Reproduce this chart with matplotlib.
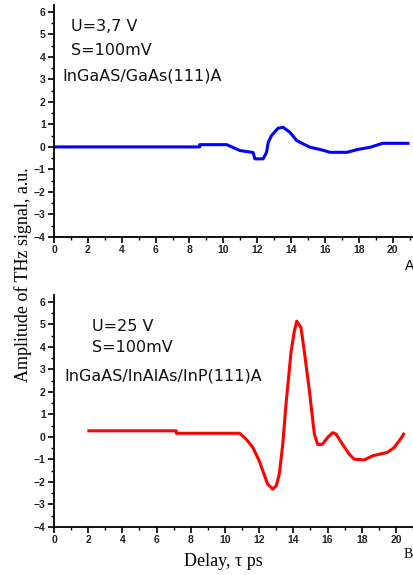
import matplotlib
matplotlib.use('Agg')
import matplotlib.pyplot as plt
from matplotlib.ticker import MultipleLocator

# top panel (A): InGaAs/GaAs(111)A, U=3.7 V
delay_a = [0, 8.6, 8.6, 10.2, 10.97, 11.76, 11.86, 12.35, 12.55, 12.65, 12.84,
           13.23, 13.53, 13.93, 14.33, 15.1, 15.9, 16.3, 17.3, 17.9, 18.7, 19.4, 20.9]
amp_a = [0, 0, 0.1, 0.1, -0.16, -0.25, -0.53, -0.53, -0.24, 0.2, 0.5,
         0.83, 0.87, 0.65, 0.28, -0.01, -0.15, -0.24, -0.24, -0.12, -0.01, 0.16, 0.16]

# bottom panel (B): InGaAs/InAlAs/InP(111)A, U=25 V
delay_b = [2.04, 7.15, 7.15, 10.85, 11.24, 11.63, 12.0, 12.5, 12.8, 13.0, 13.18,
           13.38, 13.57, 13.87, 14.06, 14.2, 14.45, 14.64, 14.94, 15.23, 15.42,
           15.7, 16.0, 16.3, 16.5, 16.88, 17.27, 17.56, 18.15, 18.64, 19.03,
           19.5, 19.9, 20.19, 20.39, 20.45]
amp_b = [0.27, 0.27, 0.16, 0.16, -0.1, -0.47, -1.06, -2.1, -2.32, -2.17, -1.65,
         -0.33, 1.45, 3.8, 4.7, 5.14, 4.84, 3.8, 2.04, 0.12, -0.33,
         -0.33, -0.03, 0.19, 0.12, -0.33, -0.77, -0.99, -1.02, -0.84, -0.77,
         -0.69, -0.47, -0.18, 0.04, 0.12]

fig = plt.figure(figsize=(4.13, 5.75), dpi=100)
ax1 = fig.add_axes([0.1308, 0.5878, 0.8692, 0.4035])
ax2 = fig.add_axes([0.1308, 0.0835, 0.8692, 0.4035])

ax1.plot(delay_a, amp_a, color='#0000ff', linewidth=2.2)
ax2.plot(delay_b, amp_b, color='#ff0000', linewidth=2.2)

for ax, xmax in [(ax1, 21.2), (ax2, 21.0)]:
    ax.set_xlim(0, xmax)
    ax.set_ylim(-4, 6.3)
    ax.spines['top'].set_visible(False)
    ax.spines['right'].set_visible(False)
    ax.spines['left'].set_linewidth(1.3)
    ax.spines['bottom'].set_linewidth(1.3)
    ax.xaxis.set_major_locator(MultipleLocator(2))
    ax.xaxis.set_minor_locator(MultipleLocator(1))
    ax.yaxis.set_major_locator(MultipleLocator(1))
    ax.yaxis.set_minor_locator(MultipleLocator(0.5))
    ax.tick_params(which='major', direction='out', length=4, width=1.2,
                   labelsize=7.5, pad=2, labelcolor='#222222')
    ax.tick_params(which='minor', direction='out', length=2.5, width=1)
    for lbl in ax.get_xticklabels() + ax.get_yticklabels():
        lbl.set_fontweight('bold')
        lbl.set_family('Liberation Sans')

ann = dict(fontsize=11.5, family='DejaVu Sans', va='center', color='#111111')
ax1.text(1.0, 5.33, 'U=3,7 V', **ann)
ax1.text(1.0, 4.27, 'S=100mV', **ann)
ax1.text(0.5, 3.16, 'InGaAS/GaAs(111)A', **ann)

ax2.text(2.2, 4.9, 'U=25 V', **ann)
ax2.text(2.2, 3.95, 'S=100mV', **ann)
ax2.text(0.6, 2.7, 'InGaAS/InAlAs/InP(111)A', **ann)

fig.text(0.98, 0.537, 'A', fontsize=10, family='Liberation Sans', ha='left', va='center')
fig.text(0.978, 0.035, 'B', fontsize=10, family='Liberation Serif', ha='left', va='center')

fig.text(0.055, 0.523, 'Amplitude of THz signal, a.u.', rotation=90,
         fontsize=13, family='Liberation Serif', ha='center', va='center')
fig.text(0.54, 0.023, 'Delay, \u03c4 ps', fontsize=13, family='Liberation Serif',
         ha='center', va='center')

fig.savefig('out.png', dpi=100)
